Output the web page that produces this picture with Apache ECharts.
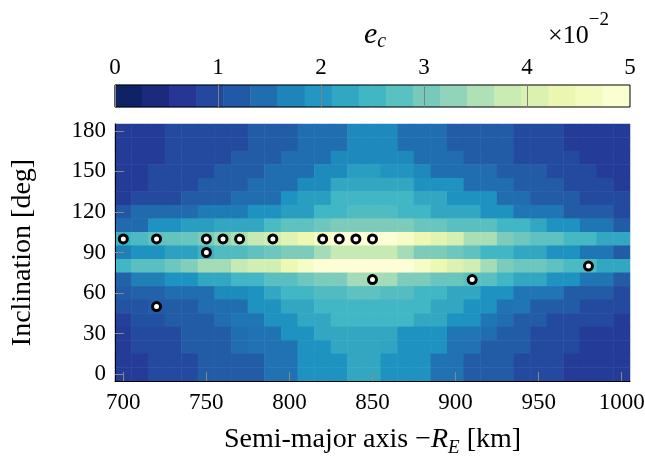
<!DOCTYPE html>
<html><head><meta charset="utf-8">
<script src="https://cdn.jsdelivr.net/npm/echarts@6/dist/echarts.min.js"></script>
<style>html,body{margin:0;padding:0;background:#fff}#c{width:645px;height:458px}</style>
</head><body><div id="c"></div>
<script>
// Semi-major axis - R_E [km] (columns) and inclination [deg] (rows)
const semiMajor = [700,710,720,730,740,750,760,770,780,790,800,810,820,830,840,850,860,870,880,890,900,910,920,930,940,950,960,970,980,990,1000];
const inclination = [0,10,20,30,40,50,60,70,80,90,100,110,120,130,140,150,160,170,180];
// e_c values in units of 1e-2, rows listed from inclination 180 (top) down to 0 (bottom)
const row180 = [0.75,0.75,0.75,0.95,0.95,0.95,0.95,0.95,1.2,1.2,1.2,1.45,1.45,1.45,1.78,1.78,1.78,1.45,1.45,1.45,1.2,1.2,1.2,1.2,0.95,0.95,0.95,0.75,0.75,0.75,0.75];
const row170 = [0.75,0.75,0.75,0.95,0.95,0.95,0.95,0.95,1.2,1.2,1.2,1.45,1.45,1.45,1.78,1.78,1.78,1.45,1.45,1.45,1.2,1.2,1.2,1.2,0.95,0.95,0.95,0.75,0.75,0.75,0.75];
const row160 = [0.75,0.75,0.75,0.95,0.95,0.95,0.95,1.2,1.2,1.2,1.45,1.45,1.45,1.78,1.78,1.78,1.78,1.78,1.45,1.45,1.45,1.2,1.2,1.2,0.95,0.95,0.95,0.95,0.75,0.75,0.75];
const row150 = [0.75,0.75,0.95,0.95,0.95,0.95,1.2,1.2,1.2,1.45,1.45,1.45,1.8,1.8,2.1,2.1,1.95,1.95,1.78,1.45,1.45,1.45,1.45,1.2,1.2,1.2,0.95,0.95,0.95,0.75,0.75];
const row140 = [0.75,0.75,0.95,0.95,0.95,1.2,1.2,1.2,1.45,1.45,1.45,1.8,1.8,2.25,2.25,2.25,2.25,2.25,1.9,1.9,1.9,1.45,1.45,1.45,1.2,1.2,1.2,0.95,0.95,0.95,0.75];
const row130 = [0.75,0.95,0.95,0.95,1.2,1.2,1.2,1.45,1.45,1.45,1.9,2.1,2.1,2.5,2.5,2.5,2.5,2.5,2.25,2.25,1.9,1.9,1.9,1.45,1.45,1.2,1.2,1.2,0.95,0.95,0.95];
const row120 = [1.15,1.4,1.4,1.4,1.4,1.6,1.6,1.6,1.9,1.9,2.1,2.1,2.5,2.5,2.65,2.65,2.65,2.5,2.5,2.25,2.25,2.25,1.9,1.9,1.55,1.55,1.55,1.2,1.2,1.2,0.95];
const row110 = [1.4,1.4,1.9,1.9,2.1,2.1,2.25,2.25,2.25,2.6,2.8,2.8,2.95,3.1,3.1,3.1,3.1,3.1,2.9,2.9,2.75,2.75,2.75,2.5,2.5,2.25,1.9,1.9,1.55,1.55,1.2];
const row100 = [2.45,2.6,2.8,2.85,2.9,3.1,3.3,3.5,3.75,3.9,4.15,4.4,4.7,4.95,4.95,4.95,4.95,4.7,4.4,4.2,4.0,3.5,3.5,3.1,2.95,2.8,2.8,2.55,2.55,2.25,2.25];
const row90  = [1.65,1.9,1.9,2.15,2.15,2.45,2.65,2.65,2.8,2.95,3.1,3.1,3.45,3.75,3.75,3.75,3.75,3.45,3.1,3.1,2.95,2.8,2.5,2.5,2.25,2.25,1.9,1.9,1.55,1.55,1.2];
const row80  = [2.5,2.75,2.75,2.95,3.15,3.45,3.45,3.75,3.95,3.95,4.4,4.7,4.95,4.95,4.95,4.95,4.95,4.95,4.7,4.4,4.1,3.9,3.45,3.1,2.95,2.95,2.8,2.6,2.6,2.25,2.25];
const row70  = [1.3,1.65,1.65,1.9,1.9,2.25,2.25,2.5,2.5,2.75,2.75,2.95,3.1,3.1,3.45,3.45,3.45,3.1,3.1,2.9,2.9,2.75,2.75,2.5,2.25,2.25,1.9,1.9,1.55,1.55,1.2];
const row60  = [1.2,1.3,1.3,1.45,1.45,1.45,1.8,1.8,1.9,2.25,2.5,2.5,2.65,2.65,2.8,2.8,2.7,2.7,2.5,2.5,2.25,2.25,1.9,1.9,1.55,1.55,1.55,1.2,1.2,1.2,0.95];
const row50  = [1.1,1.1,1.2,1.2,1.2,1.45,1.45,1.45,1.9,1.9,2.25,2.25,2.5,2.5,2.5,2.5,2.5,2.5,2.5,2.25,2.25,1.9,1.9,1.5,1.55,1.2,1.2,1.2,0.95,0.95,0.95];
const row40  = [0.8,1.05,1.05,1.2,1.2,1.2,1.45,1.55,1.55,1.9,1.9,2.25,2.25,2.5,2.5,2.5,2.5,2.5,2.25,2.25,1.9,1.9,1.55,1.45,1.2,1.2,0.95,0.95,0.95,0.95,0.75];
const row30  = [0.75,0.95,0.95,0.95,1.2,1.2,1.2,1.45,1.5,1.5,1.9,1.9,2.25,2.25,2.25,2.25,2.25,1.9,1.9,1.9,1.55,1.55,1.45,1.2,1.2,0.95,0.95,0.95,0.75,0.75,0.75];
const row20  = [0.75,0.95,0.95,0.95,1.2,1.2,1.2,1.45,1.5,1.5,1.5,1.9,1.9,2.25,2.25,2.25,2.2,1.9,1.9,1.9,1.5,1.5,1.2,1.2,1.2,0.95,0.95,0.95,0.75,0.75,0.75];
const row10  = [0.75,0.75,0.95,0.95,0.95,1.2,1.2,1.2,1.2,1.5,1.5,1.9,1.9,1.9,2.25,2.25,1.9,1.9,1.9,1.5,1.5,1.2,1.2,1.2,0.95,0.95,0.95,0.75,0.75,0.75,0.75];
const row0   = [0.75,0.75,0.95,0.95,0.95,1.2,1.2,1.2,1.2,1.5,1.5,1.9,1.9,1.9,2.25,2.25,1.9,1.9,1.9,1.5,1.5,1.2,1.2,1.2,0.95,0.95,0.95,0.75,0.75,0.75,0.75];
const rowsTopDown = [row180,row170,row160,row150,row140,row130,row120,row110,row100,row90,row80,row70,row60,row50,row40,row30,row20,row10,row0];
// Marked orbits [semi-major axis, inclination]
const pointA = [700,720,750,760,770,790,820,830,840,850,750,720,850,910,980];
const pointI = [100,100,100,100,100,100,100,100,100,100,90,50,70,70,80];
// Colour bar
const cbarTicks = [0,1,2,3,4,5];
const cbarSamples = [0.13,0.39,0.66,0.92,1.18,1.45,1.71,1.97,2.24,2.5,2.76,3.03,3.29,3.55,3.82,4.08,4.34,4.61,4.87];
const palette = ['#081d58','#253494','#225ea8','#1d91c0','#41b6c4','#7fcdbb','#c7e9b4','#edf8b1','#ffffd9'];

const FONT = 'Liberation Serif';
const xCats = semiMajor.map(String);
const yCats = inclination.map(String);
const heat = [];
rowsTopDown.forEach((row, r) => {
  const yi = inclination.length - 1 - r;
  row.forEach((v, xi) => heat.push([xi, yi, v]));
});
const pts = pointA.map((a, k) => [semiMajor.indexOf(a), inclination.indexOf(pointI[k])]);
const cbarData = cbarSamples.map((v, i) => [i, 0, v]);

const chart = echarts.init(document.getElementById('c'), null, {renderer: 'canvas'});
chart.setOption({
  animation: false,
  backgroundColor: '#fff',
  textStyle: {fontFamily: FONT, color: '#000'},
  title: [
    {left: 359, top: 13, text: '{i|e}{s|c}',
     textStyle: {fontWeight: 'normal', rich: {i: {fontFamily: FONT, fontStyle: 'italic', fontWeight: 'normal', fontSize: 30, lineHeight: 34, color: '#000'},
                        s: {fontFamily: FONT, fontStyle: 'italic', fontWeight: 'normal', fontSize: 20, lineHeight: 20, verticalAlign: 'bottom', color: '#000'}}}},
    {left: 543, top: 6, text: '{n|×10}{p|−2}',
     textStyle: {fontWeight: 'normal', rich: {n: {fontFamily: FONT, fontWeight: 'normal', fontSize: 26, lineHeight: 38, verticalAlign: 'bottom', color: '#000'},
                        p: {fontFamily: FONT, fontWeight: 'normal', fontSize: 19, lineHeight: 19, verticalAlign: 'top', color: '#000'}}}}
  ],
  grid: [
    {left: 115, top: 124, width: 515, height: 257, containLabel: false, outerBoundsMode: 'none'},
    {left: 115, top: 85, width: 515, height: 22, show: true, borderColor: '#000', borderWidth: 1, backgroundColor: 'transparent', z: 10, outerBoundsMode: 'none'}
  ],
  visualMap: {show: false, type: 'continuous', min: 0, max: 5, seriesIndex: [0, 2], dimension: 2, inRange: {color: palette}},
  xAxis: [
    {type: 'category', gridIndex: 0, data: xCats, boundaryGap: true, z: 10,
     axisLine: {show: true, lineStyle: {color: '#000', width: 1}},
     axisTick: {show: true, inside: true, length: 9, alignWithLabel: true, interval: 4, lineStyle: {color: '#888'}},
     axisLabel: {interval: 4, fontSize: 23, fontFamily: FONT, color: '#000', margin: 10},
     splitLine: {show: false},
     name: '{n|Semi-major axis }{n|−}{i|R}{s|E}{n| [km]}', nameLocation: 'middle', nameGap: 42,
     nameTextStyle: {rich: {n: {fontFamily: FONT, fontSize: 28, lineHeight: 34, color: '#000'},
                            i: {fontFamily: FONT, fontSize: 28, fontStyle: 'italic', lineHeight: 34, color: '#000'},
                            s: {fontFamily: FONT, fontSize: 19, fontStyle: 'italic', lineHeight: 22, verticalAlign: 'bottom', color: '#000'}}}},
    {type: 'category', gridIndex: 1, data: cbarSamples.map(String), show: false},
    {type: 'value', gridIndex: 1, min: 0, max: 5, interval: 1, position: 'top', z: 11,
     axisLine: {show: false},
     axisTick: {show: true, inside: true, length: 22, lineStyle: {color: '#808080'}},
     axisLabel: {fontSize: 23, fontFamily: FONT, color: '#000', margin: 6},
     splitLine: {show: false}}
  ],
  yAxis: [
    {type: 'category', gridIndex: 0, data: yCats, boundaryGap: true, z: 10,
     axisLine: {show: true, lineStyle: {color: '#000', width: 1}},
     axisTick: {show: true, inside: true, length: 9, alignWithLabel: true, interval: 2, lineStyle: {color: '#888'}},
     axisLabel: {interval: 2, fontSize: 23, fontFamily: FONT, color: '#000', margin: 9},
     splitLine: {show: false},
     name: 'Inclination [deg]', nameLocation: 'middle', nameGap: 78, nameRotate: 90,
     nameTextStyle: {fontFamily: FONT, fontSize: 28, color: '#000'}},
    {type: 'category', gridIndex: 1, data: ['0'], show: false}
  ],
  series: [
    {type: 'heatmap', xAxisIndex: 0, yAxisIndex: 0, data: heat, itemStyle: {borderWidth: 0}, emphasis: {disabled: true}, z: 2},
    {type: 'scatter', xAxisIndex: 0, yAxisIndex: 0, data: pts, symbol: 'circle', symbolSize: 8,
     itemStyle: {color: '#fff', borderColor: '#000', borderWidth: 3, opacity: 1}, z: 5},
    {type: 'heatmap', xAxisIndex: 1, yAxisIndex: 1, data: cbarData, itemStyle: {borderWidth: 0}, emphasis: {disabled: true}, z: 2}
  ]
});
</script></body></html>
